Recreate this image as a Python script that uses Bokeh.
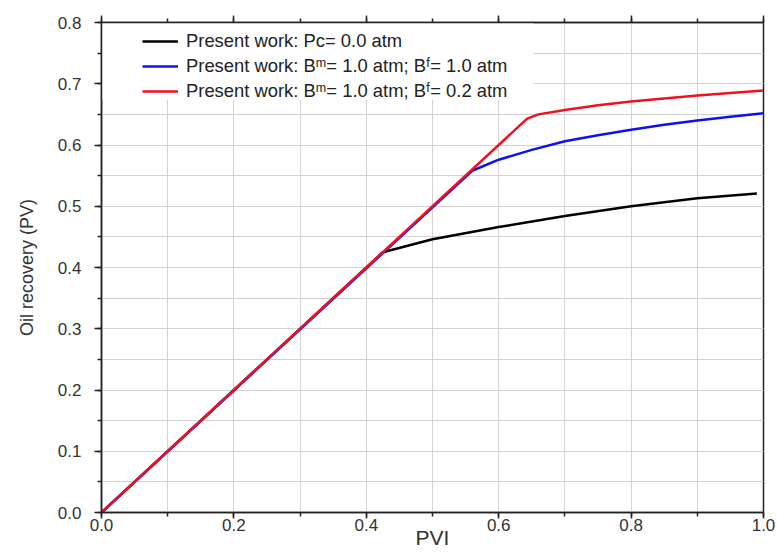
from bokeh.plotting import figure
from bokeh.models import (Legend, LegendItem, LinearAxis, SingleIntervalTicker,
                          BoxAnnotation, NumeralTickFormatter, Range1d,
                          CustomJSTickFormatter)
from bokeh.embed import file_html
from bokeh.resources import INLINE

# ---- data ----
x_black = [0.0, 0.425, 0.5, 0.6, 0.7, 0.8, 0.9, 0.99]
y_black = [0.0, 0.425, 0.446, 0.466, 0.484, 0.500, 0.513, 0.521]

x_blue = [0.0, 0.56, 0.6, 0.65, 0.7, 0.75, 0.8, 0.85, 0.9, 0.95, 1.0]
y_blue = [0.0, 0.558, 0.576, 0.592, 0.606, 0.616, 0.625, 0.633, 0.640, 0.646, 0.652]

x_red = [0.0, 0.643, 0.66, 0.7, 0.75, 0.8, 0.85, 0.9, 0.95, 1.0]
y_red = [0.0, 0.643, 0.650, 0.657, 0.665, 0.671, 0.676, 0.681, 0.685, 0.689]

labels = [
    "Present work: Pc= 0.0 atm",
    "Present work: B\u1d50= 1.0 atm; B\u1da0= 1.0 atm",
    "Present work: B\u1d50= 1.0 atm; B\u1da0= 0.2 atm",
]
colors = ["#000000", "#1010ee", "#ee1122"]

x_title = "PVI"
y_title = "Oil recovery (PV)"

FONT = "Liberation Sans"
GRID = "#d2d2d2"
AX = "#222222"

p = figure(width=777, height=556, x_range=Range1d(0, 1), y_range=Range1d(0, 0.8),
           output_backend="svg", toolbar_location=None,
           x_axis_label=x_title, y_axis_label=y_title,
           min_border_left=101, min_border_right=14, min_border_top=22,
           min_border_bottom=44)
p.background_fill_color = "white"
p.border_fill_color = "white"
p.outline_line_color = AX
p.outline_line_width = 1.5

x_ticker = SingleIntervalTicker(interval=0.2, num_minor_ticks=2)
y_ticker = SingleIntervalTicker(interval=0.1, num_minor_ticks=2)

for ax, tk in ((p.xaxis[0], x_ticker), (p.yaxis[0], y_ticker)):
    ax.ticker = tk
    ax.formatter = NumeralTickFormatter(format="0.0")
    ax.axis_line_color = AX
    ax.axis_line_width = 1.5
    ax.major_tick_line_color = AX
    ax.minor_tick_line_color = AX
    ax.major_tick_line_width = 1.5
    ax.minor_tick_line_width = 1.5
    ax.major_tick_in = 0
    ax.minor_tick_in = 0
    ax.major_tick_out = 6
    ax.minor_tick_out = 4
    ax.major_label_text_font = FONT
    ax.major_label_text_font_size = "17px"
    ax.major_label_text_color = "#333333"
    ax.axis_label_text_font = FONT
    ax.axis_label_text_font_style = "normal"
    ax.axis_label_text_color = "#333333"

p.xaxis.major_label_standoff = 0
p.xaxis.axis_label_text_font_size = "21px"
p.xaxis.axis_label_standoff = -8
p.yaxis.major_tick_out = 7
p.yaxis.major_label_standoff = 13
p.yaxis.axis_label_text_font_size = "18px"
p.yaxis.axis_label_standoff = 18

top = LinearAxis(ticker=x_ticker, formatter=CustomJSTickFormatter(code="return ''"),
                 major_label_standoff=0, major_label_text_font_size="1px",
                 axis_line_color=AX, axis_line_width=1.5,
                 major_tick_line_color=AX, minor_tick_line_color=AX,
                 major_tick_line_width=1.5, minor_tick_line_width=1.5,
                 major_tick_in=0, minor_tick_in=0, major_tick_out=7, minor_tick_out=4)
p.add_layout(top, "above")

p.xgrid.ticker = x_ticker
p.ygrid.ticker = y_ticker
for g in (p.xgrid[0], p.ygrid[0]):
    g.grid_line_color = GRID
    g.grid_line_width = 1
    g.minor_grid_line_color = GRID
    g.minor_grid_line_width = 1

# white area behind legend (covers grid lines)
legend_bg = BoxAnnotation(left=0.0, right=0.653, bottom=0.674, top=0.8,
                          fill_color="white", fill_alpha=1.0, line_color=None,
                          level="underlay")
p.add_layout(legend_bg)

r_black = p.line(x_black, y_black, line_color=colors[0], line_width=2.5)
r_blue = p.line(x_blue, y_blue, line_color=colors[1], line_width=2.5)
r_red = p.line(x_red, y_red, line_color=colors[2], line_width=2.5)

legend = Legend(items=[LegendItem(label=labels[0], renderers=[r_black]),
                       LegendItem(label=labels[1], renderers=[r_blue]),
                       LegendItem(label=labels[2], renderers=[r_red])],
                location=(41, 410), padding=6, margin=0, spacing=3,
                glyph_width=36, glyph_height=22, label_height=22,
                label_standoff=8,
                label_text_font=FONT, label_text_font_size="18.4px",
                label_text_color="#222222",
                background_fill_alpha=0, border_line_color=None)
p.add_layout(legend)

open("out.html", "w").write(file_html(p, INLINE))
